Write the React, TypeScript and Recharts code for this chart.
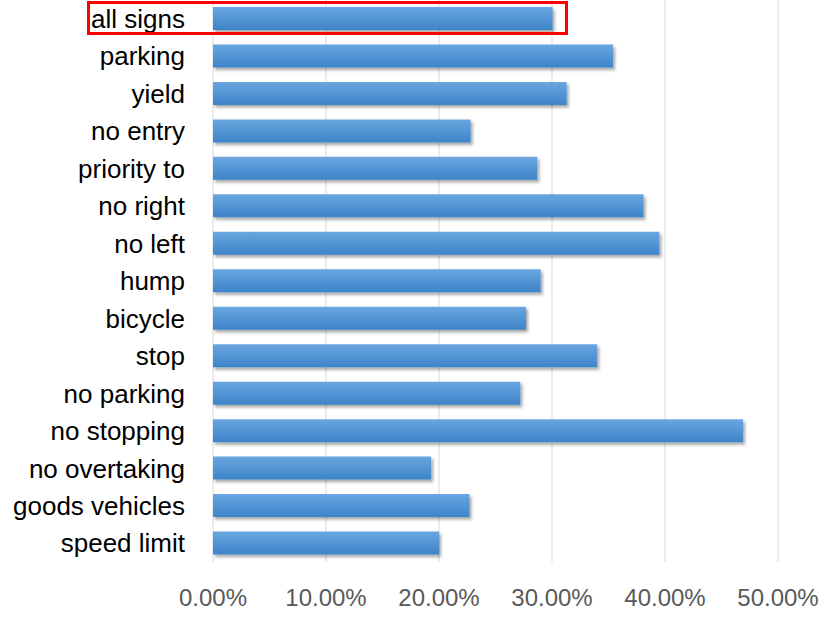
import { BarChart, Bar, XAxis, YAxis, CartesianGrid } from 'recharts';

const signs = [
  'all signs',
  'parking',
  'yield',
  'no entry',
  'priority to',
  'no right',
  'no left',
  'hump',
  'bicycle',
  'stop',
  'no parking',
  'no stopping',
  'no overtaking',
  'goods vehicles',
  'speed limit',
];
const shares = [
  0.3005, 0.354, 0.313, 0.228, 0.287, 0.381, 0.395, 0.29, 0.277, 0.34, 0.272, 0.469, 0.193, 0.227, 0.2,
];
const xTicks = [0, 0.1, 0.2, 0.3, 0.4, 0.5];

const data = signs.map((name, i) => ({ name, share: shares[i] }));

const fmtPct = (v: number) => `${(v * 100).toFixed(2)}%`;

export default function App() {
  return (
    <div style={{ position: 'absolute', left: 0, top: 0, width: 830, height: 623, background: '#fff' }}>
      <BarChart
        width={830}
        height={623}
        data={data}
        layout="vertical"
        margin={{ top: 0, right: 52, left: 0, bottom: 0 }}
        barCategoryGap={0}
      >
        <defs>
          <linearGradient id="barFill" x1="0" y1="0" x2="0" y2="1">
            <stop offset="0%" stopColor="#6aa6e0" />
            <stop offset="100%" stopColor="#3d84c9" />
          </linearGradient>
          <filter id="barShadow" x="-5%" y="-30%" width="110%" height="170%">
            <feDropShadow dx="2" dy="2.5" stdDeviation="1.5" floodColor="#000" floodOpacity="0.35" />
          </filter>
        </defs>
        <CartesianGrid horizontal={false} stroke="#d9d9d9" strokeWidth={1} />
        <XAxis
          type="number"
          domain={[0, 0.5]}
          ticks={xTicks}
          tickFormatter={fmtPct}
          axisLine={false}
          tickLine={false}
          tickSize={0}
          tickMargin={27}
          height={61}
          interval={0}
          tick={{ fill: '#595959', fontSize: 24, fontFamily: 'Liberation Sans, Arial, sans-serif' }}
        />
        <YAxis
          type="category"
          dataKey="name"
          width={213}
          axisLine={false}
          tickLine={false}
          tickSize={0}
          tickMargin={28}
          interval={0}
          tick={{ fill: '#000', fontSize: 26, fontFamily: 'Liberation Sans, Arial, sans-serif' }}
        />
        <Bar
          dataKey="share"
          barSize={23}
          fill="url(#barFill)"
          filter="url(#barShadow)"
          isAnimationActive={false}
        />
      </BarChart>
      <div
        style={{
          position: 'absolute',
          left: 87,
          top: 1,
          width: 481,
          height: 34,
          border: '3px solid #ff0000',
          boxSizing: 'border-box',
          pointerEvents: 'none',
        }}
      />
    </div>
  );
}
